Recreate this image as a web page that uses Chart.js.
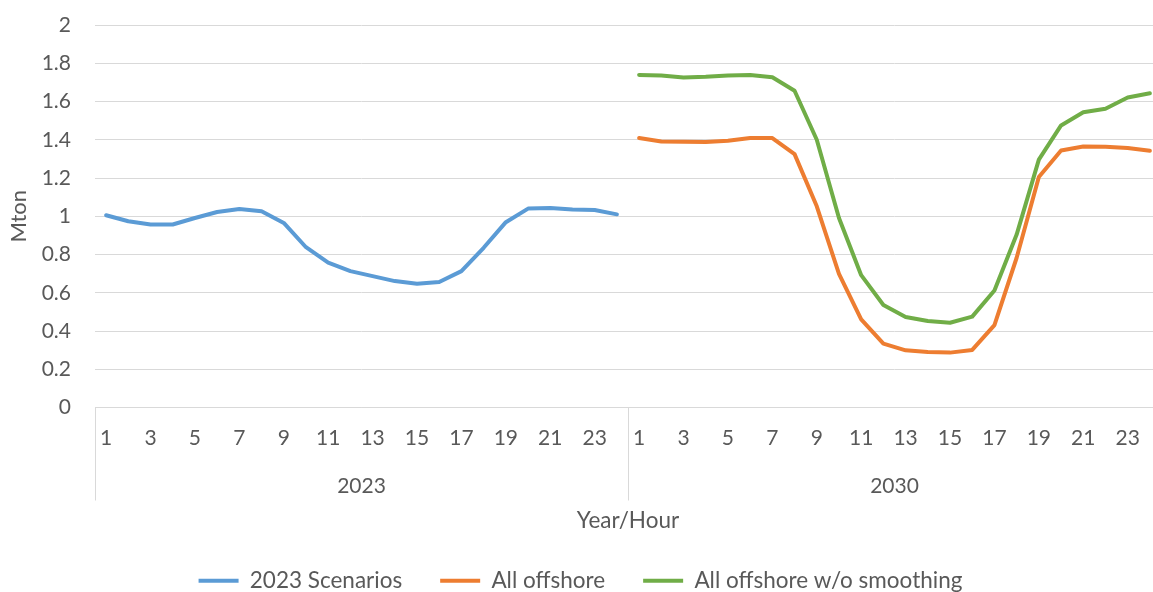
<!DOCTYPE html>
<html>
<head>
<meta charset="utf-8">
<script src="https://cdn.jsdelivr.net/npm/chart.js@4/dist/chart.umd.min.js"></script>
<style>
  html, body { margin: 0; padding: 0; background: #ffffff; overflow: hidden; }
  #wrap { position: absolute; left: 0; top: 0; width: 1161px; height: 592px; }
</style>
</head>
<body>
<div id="wrap"><canvas id="chart"></canvas></div>
<script>
// Hours of the day, shown once per year group
const hours = ['1','2','3','4','5','6','7','8','9','10','11','12',
               '13','14','15','16','17','18','19','20','21','22','23','24'];
const years = ['2023', '2030'];

// Hourly values, Mton
const scenarios2023 = [1.005, 0.974, 0.957, 0.957, 0.991, 1.022, 1.038, 1.026, 0.965, 0.838, 0.757, 0.713,
                       0.687, 0.661, 0.647, 0.656, 0.713, 0.835, 0.969, 1.040, 1.043, 1.035, 1.033, 1.010];
const allOffshore = [1.409, 1.391, 1.390, 1.388, 1.395, 1.409, 1.409, 1.325, 1.052, 0.699, 0.461, 0.334,
                     0.299, 0.290, 0.287, 0.301, 0.431, 0.783, 1.205, 1.344, 1.365, 1.363, 1.357, 1.343];
const allOffshoreNoSmoothing = [1.739, 1.736, 1.725, 1.729, 1.736, 1.739, 1.727, 1.656, 1.400, 0.991, 0.692, 0.536,
                                0.473, 0.452, 0.443, 0.475, 0.612, 0.904, 1.296, 1.475, 1.544, 1.562, 1.621, 1.643];

const yTicks = [0, 0.2, 0.4, 0.6, 0.8, 1, 1.2, 1.4, 1.6, 1.8, 2];

const FONT = 'Lato';
const TEXT = '#595959';
const GRID = '#d9d9d9';

// One category per (year, hour)
const labels = [];
years.forEach(() => hours.forEach(h => labels.push(h)));
const blanks = hours.map(() => null);

// Vertical separators and year captions below the hour labels
const yearGroups = {
  id: 'yearGroups',
  afterDraw(chart) {
    const x = chart.scales.x;
    const ctx = chart.ctx;
    const n = hours.length;
    const top = chart.chartArea.bottom;
    const bottom = top + 93;
    const edges = [x.left];
    for (let g = 1; g < years.length; g++) {
      edges.push((x.getPixelForValue(g * n - 1) + x.getPixelForValue(g * n)) / 2);
    }
    edges.push(x.right);
    ctx.save();
    ctx.strokeStyle = GRID;
    ctx.lineWidth = 1;
    edges.forEach(e => {
      const px = Math.round(e) + 0.5;
      ctx.beginPath();
      ctx.moveTo(px, top);
      ctx.lineTo(px, bottom);
      ctx.stroke();
    });
    ctx.fillStyle = TEXT;
    ctx.font = '21px ' + FONT;
    ctx.textAlign = 'center';
    ctx.textBaseline = 'middle';
    years.forEach((yr, g) => {
      ctx.fillText(yr, (edges[g] + edges[g + 1]) / 2, top + 79);
    });
    ctx.restore();
  }
};

new Chart(document.getElementById('chart'), {
  type: 'line',
  data: {
    labels: labels,
    datasets: [
      { label: '2023 Scenarios', data: scenarios2023.concat(blanks),
        borderColor: '#5B9BD5', backgroundColor: '#5B9BD5' },
      { label: 'All offshore', data: blanks.concat(allOffshore),
        borderColor: '#ED7D31', backgroundColor: '#ED7D31' },
      { label: 'All offshore w/o smoothing', data: blanks.concat(allOffshoreNoSmoothing),
        borderColor: '#70AD47', backgroundColor: '#70AD47' }
    ]
  },
  options: {
    responsive: true,
    maintainAspectRatio: false,
    animation: false,
    layout: { padding: { top: 25, left: 0, right: 0, bottom: -10 } },
    elements: {
      point: { radius: 0 },
      line: { borderWidth: 4, tension: 0, borderJoinStyle: 'round', borderCapStyle: 'round' }
    },
    spanGaps: false,
    plugins: {
      tooltip: { enabled: false },
      legend: {
        position: 'bottom',
        labels: {
          color: TEXT,
          font: { family: FONT, size: 22.5 },
          boxWidth: 40,
          boxHeight: 4,
          padding: 38,
          generateLabels(chart) {
            return Chart.defaults.plugins.legend.labels.generateLabels(chart)
              .map(it => Object.assign(it, { lineWidth: 0, fillStyle: it.strokeStyle }));
          }
        }
      }
    },
    scales: {
      x: {
        type: 'category',
        offset: true,
        grid: { display: false },
        border: { display: true, color: GRID },
        ticks: {
          autoSkip: false,
          maxRotation: 0,
          minRotation: 0,
          padding: 10,
          color: TEXT,
          font: { family: FONT, size: 21 },
          callback(value, index) {
            const h = Number(labels[index]);
            return h % 2 === 1 ? labels[index] : '';
          }
        },
        title: {
          display: true,
          text: 'Year/Hour',
          color: TEXT,
          font: { family: FONT, size: 22.5 },
          padding: { top: 0, bottom: -3 }
        },
        afterFit(scale) { scale.height = 124; }
      },
      y: {
        min: 0,
        max: 2,
        grid: { color: GRID, drawTicks: false },
        border: { display: false },
        ticks: {
          stepSize: 0.2,
          padding: 24,
          color: TEXT,
          font: { family: FONT, size: 21 },
          callback(v) { return String(Number(v.toFixed(1))); }
        },
        afterBuildTicks(scale) { scale.ticks = yTicks.map(v => ({ value: v })); },
        title: {
          display: true,
          text: 'Mton',
          color: TEXT,
          font: { family: FONT, size: 22 },
          padding: { top: 6, bottom: 0 }
        },
        afterFit(scale) {
          scale.width = 95;
          scale.paddingTop = 0;
          scale.paddingBottom = 0;
        }
      }
    }
  },
  plugins: [yearGroups]
});
</script>
</body>
</html>
